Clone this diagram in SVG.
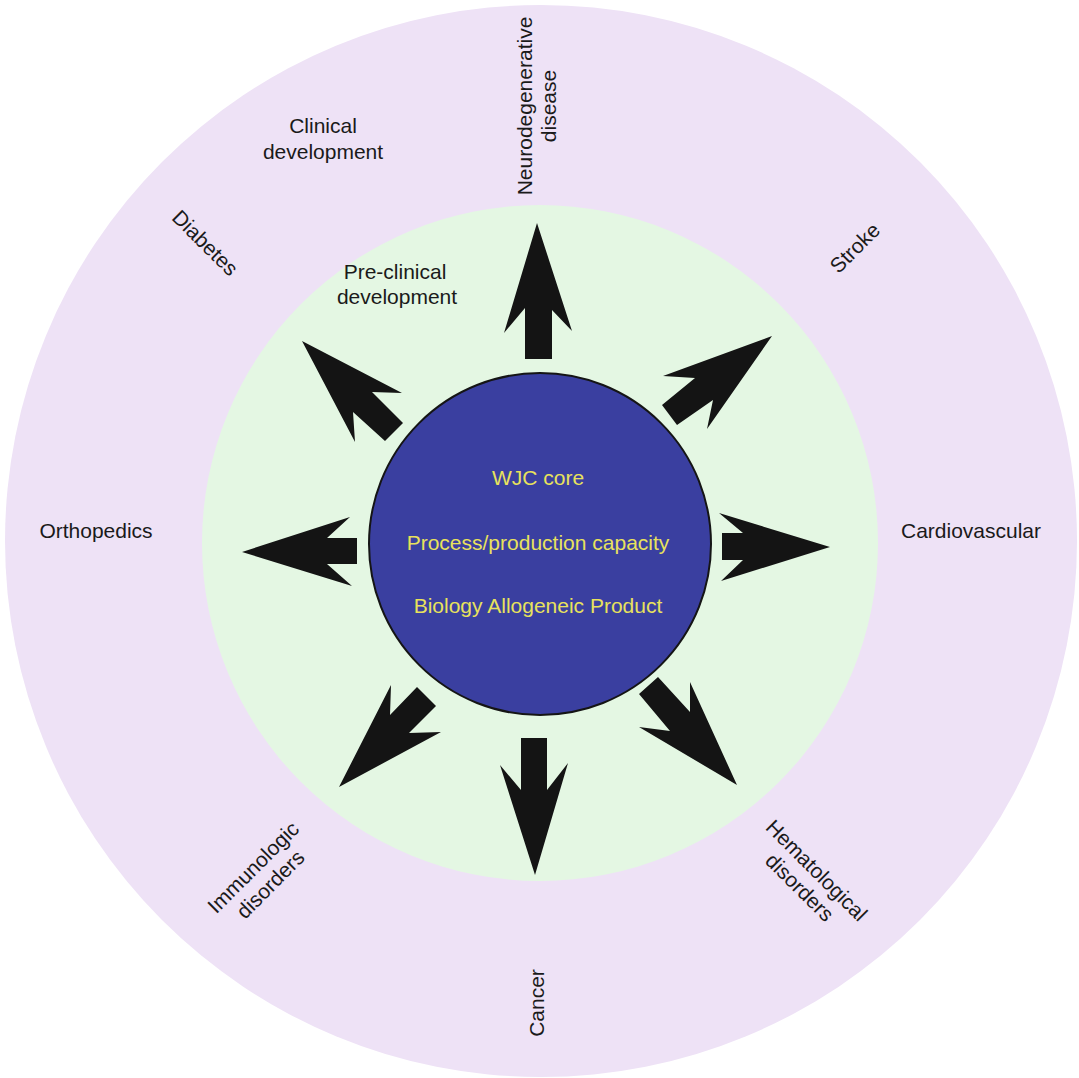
<svg xmlns="http://www.w3.org/2000/svg" width="1079" height="1078" viewBox="0 0 1079 1078">
<style>
.lbl{font-family:"Liberation Sans",Arial,sans-serif;font-size:21px;fill:#1a1a1a;text-anchor:middle}
.core{font-family:"Liberation Sans",Arial,sans-serif;font-size:21px;fill:#e8e25c;text-anchor:middle}
.arr{fill:#141414}
</style>
<rect width="1079" height="1078" fill="#ffffff"/>
<g id="outer"><circle cx="541" cy="541" r="536" fill="#eee2f6"/></g>
<g id="preclinical"><circle cx="540" cy="543" r="338" fill="#e4f7e3"/></g>
<g id="core">
<circle cx="540" cy="544" r="171" fill="#3a3fa0" stroke="#151515" stroke-width="2"/>
<text class="core" x="538" y="485">WJC core</text>
<text class="core" x="538" y="550">Process/production capacity</text>
<text class="core" x="538" y="613">Biology Allogeneic Product</text>
</g>
<g id="connectors">
<polygon class="arr" points="525,359 525,308 504,333 537,223 572,331 552,310 552,359"/>
<polygon class="arr" points="722,533 743,533 719,513 830,547 721,581 743,560 722,560"/>
<polygon class="arr" points="357,538 327,538 350,517 242,552 352,586 327,564 357,564"/>
<polygon class="arr" points="521,738 547,738 547,790 568,763 535,875 500,765 521,790"/>
<polygon class="arr" points="662,405 695,378 663,376 772,336 707,429 713,400 677,425"/>
<polygon class="arr" points="658,677 690,712 690,682 737,785 639,727 670,731 639,694"/>
<polygon class="arr" points="436,706 409,733 441,732 339,787 391,685 390,715 417,687"/>
<polygon class="arr" points="403,423 372,392 402,393 302,341 355,442 353,412 385,441"/>
</g>
<g id="clinical-development"><text class="lbl" x="323" y="133">Clinical</text><text class="lbl" x="323" y="159">development</text></g>
<g id="pre-clinical-development"><text class="lbl" x="395" y="279">Pre-clinical</text><text class="lbl" x="397" y="304">development</text></g>
<g id="orthopedics"><text class="lbl" x="96" y="538">Orthopedics</text></g>
<g id="cardiovascular"><text class="lbl" x="971" y="538">Cardiovascular</text></g>
<g id="neurodegenerative" transform="translate(537,106) rotate(-90)"><text class="lbl" x="0" y="-5">Neurodegenerative</text><text class="lbl" x="0" y="19">disease</text></g>
<g id="stroke" transform="translate(855,248) rotate(-45)"><text class="lbl" x="0" y="7">Stroke</text></g>
<g id="diabetes" transform="translate(205,243) rotate(45)"><text class="lbl" x="0" y="7">Diabetes</text></g>
<g id="immunologic" transform="translate(262,876) rotate(-45)"><text class="lbl" x="0" y="-5">Immunologic</text><text class="lbl" x="0" y="19">disorders</text></g>
<g id="hematological" transform="translate(808,879) rotate(45)"><text class="lbl" x="0" y="-5">Hematological</text><text class="lbl" x="0" y="19">disorders</text></g>
<g id="cancer" transform="translate(537,1003) rotate(-90)"><text class="lbl" x="0" y="7">Cancer</text></g>
</svg>
